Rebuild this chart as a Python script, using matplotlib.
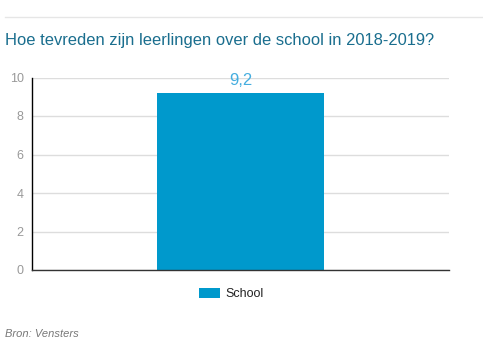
import matplotlib
matplotlib.use("Agg")
import matplotlib.pyplot as plt
from matplotlib.lines import Line2D

categories = ["School"]
values = [9.2]
value_labels = ["9,2"]
yticks = [0, 2, 4, 6, 8, 10]
title = "Hoe tevreden zijn leerlingen over de school in 2018-2019?"
source = "Bron: Vensters"

plt.rcParams['font.family'] = ['Liberation Sans', 'DejaVu Sans']

fig = plt.figure(figsize=(4.83, 3.57), dpi=100)
ax = fig.add_axes([32/483, 1-270/357, 417/483, 192.5/357])

bar_color = "#0099cc"
bars = ax.bar([0], values, width=1.0, color=bar_color, label=categories[0], zorder=3)
for b, lab in zip(bars, value_labels):
    ax.text(b.get_x() + b.get_width()/2, b.get_height() + 0.25, lab,
            ha="center", va="bottom", fontsize=12, color="#45aee0", zorder=4)

ax.set_xlim(-1.25, 1.25)
ax.set_ylim(0, 10)
ax.set_yticks(yticks)
ax.set_yticklabels([str(t) for t in yticks])
ax.set_xticks([])
ax.grid(axis="y", color="#dddddd", linewidth=1, zorder=0)
for s in ["top", "right"]:
    ax.spines[s].set_visible(False)
ax.spines["left"].set_color("#000000")
ax.spines["left"].set_linewidth(1)
ax.spines["bottom"].set_color("#333333")
ax.spines["bottom"].set_linewidth(1)
ax.spines["left"].set_zorder(5)
ax.spines["bottom"].set_zorder(5)
ax.tick_params(axis="y", length=0, pad=6, labelsize=9, labelcolor="#999999")

leg = fig.legend(loc="center", bbox_to_anchor=(231/483, 1-294/357), frameon=False,
                 fontsize=9, handlelength=1.7, handleheight=0.8, handletextpad=0.4)
for t in leg.get_texts():
    t.set_color("#222222")

fig.text(5/483, 1-40/357, title, fontsize=11.9, color="#1a6e8e", ha="left", va="center")
fig.text(5/483, 1-334/357, source, fontsize=8, color="#777777", style="italic",
         ha="left", va="center")
fig.add_artist(Line2D([5/483, 1], [1-17/357, 1-17/357], color="#e6e6e6", linewidth=1,
                      transform=fig.transFigure))

fig.savefig("out.png", dpi=100)
